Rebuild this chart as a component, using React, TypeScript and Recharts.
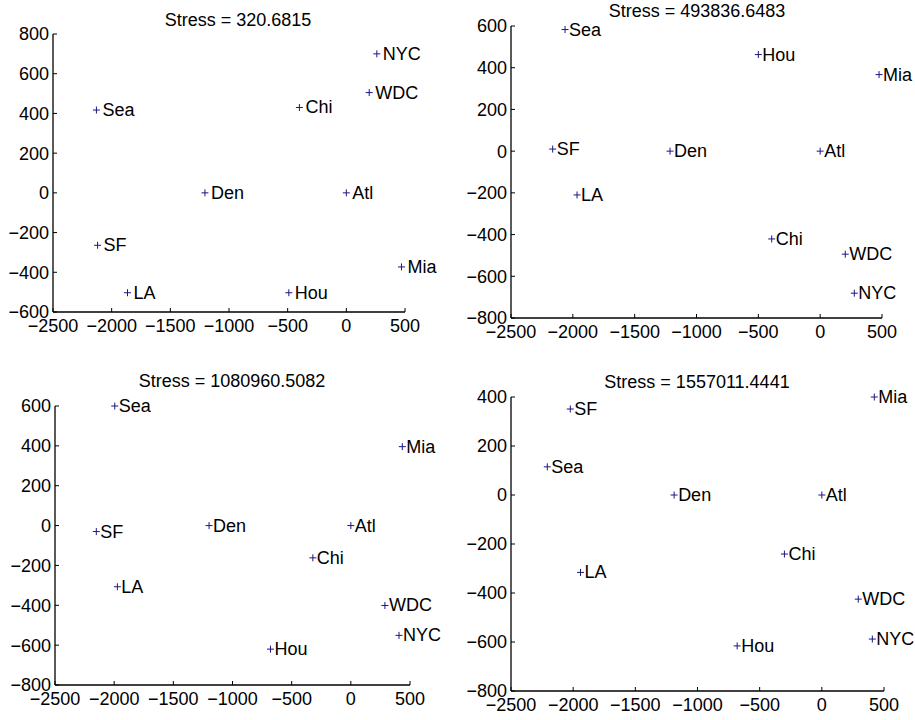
import React from 'react';
import { ScatterChart, Scatter, XAxis, YAxis } from 'recharts';

const cities = ['NYC', 'WDC', 'Chi', 'Sea', 'Den', 'Atl', 'SF', 'Mia', 'LA', 'Hou'];

// MDS coordinates, in the order of `cities`
const xs1 = [260, 195, -400, -2130, -1205, 0, -2120, 470, -1865, -490];
const ys1 = [700, 505, 430, 417, 0, 0, -264, -373, -503, -503];

const xs2 = [276, 203, -392, -2063, -1214, 0, -2163, 476, -1966, -500];
const ys2 = [-681, -494, -421, 583, 0, 0, 10, 367, -210, 463];

const xs3 = [407, 288, -321, -1995, -1198, 0, -2151, 435, -1973, -679];
const ys3 = [-551, -401, -162, 600, 0, 0, -30, 396, -307, -620];

const xs4 = [406, 293, -301, -2208, -1188, 0, -2023, 422, -1941, -681];
const ys4 = [-588, -425, -241, 115, 0, 0, 351, 400, -316, -616];

const titles = [
  'Stress = 320.6815',
  'Stress = 493836.6483',
  'Stress = 1080960.5082',
  'Stress = 1557011.4441',
];

const xTicks = [-2500, -2000, -1500, -1000, -500, 0, 500];
const yTicks1 = [-600, -400, -200, 0, 200, 400, 600, 800];
const yTicks2 = [-800, -600, -400, -200, 0, 200, 400, 600];
const yTicks4 = [-800, -600, -400, -200, 0, 200, 400];

const FONT = '"Liberation Sans", Arial, Helvetica, sans-serif';
const MARKER = '#1c1780';
const fmt = (v: number) => String(v).replace('-', '\u2212');

const makeMark = (dx: number) => (props: any) => {
  const { cx, cy, payload } = props;
  if (cx == null || cy == null) return null;
  return (
    <g>
      <line x1={cx - 3.5} x2={cx + 3.5} y1={cy} y2={cy} stroke={MARKER} strokeWidth={1} />
      <line x1={cx} x2={cx} y1={cy - 3.5} y2={cy + 3.5} stroke={MARKER} strokeWidth={1} />
      <text x={cx + dx} y={cy} dominantBaseline="central" fontSize={18} fontFamily={FONT} fill="#000">
        {payload.name}
      </text>
    </g>
  );
};

type PanelProps = {
  xs: number[];
  ys: number[];
  yTicks: number[];
  title: string;
  // plot rectangle in page pixels
  px: number;
  py: number;
  pw: number;
  ph: number;
  titleX: number;
  titleY: number;
  labelDx: number;
};

const ML = 60;
const MT = 30;
const MR = 50;
const MB = 34;

const Panel = ({ xs, ys, yTicks, title, px, py, pw, ph, titleX, titleY, labelDx }: PanelProps) => {
  const data = cities.map((name, i) => ({ name, x: xs[i], y: ys[i] }));
  const tickStyle = { fontSize: 18, fill: '#000', fontFamily: FONT };
  const Mark = makeMark(labelDx);
  return (
    <>
      <div
        style={{
          position: 'absolute',
          left: titleX - 150,
          width: 300,
          top: titleY - 11,
          height: 22,
          lineHeight: '22px',
          textAlign: 'center',
          fontFamily: FONT,
          fontSize: 18,
          color: '#000',
        }}
      >
        {title}
      </div>
      <div style={{ position: 'absolute', left: px - ML, top: py - MT }}>
        <ScatterChart
          width={pw + ML + MR}
          height={ph + MT + MB}
          margin={{ top: MT, right: MR, bottom: 0, left: 0 }}
          style={{ overflow: 'visible' }}
        >
          <XAxis
            type="number"
            dataKey="x"
            domain={[-2500, 500]}
            ticks={xTicks}
            height={MB}
            tickSize={-4}
            tickMargin={11}
            tickFormatter={fmt}
            tick={tickStyle}
            axisLine={{ stroke: '#000', strokeWidth: 1.3 }}
            tickLine={{ stroke: '#000', strokeWidth: 1 }}
          />
          <YAxis
            type="number"
            dataKey="y"
            domain={[yTicks[0], yTicks[yTicks.length - 1]]}
            ticks={yTicks}
            width={ML}
            tickSize={-4}
            tickMargin={8}
            tickFormatter={fmt}
            tick={tickStyle}
            axisLine={{ stroke: '#000', strokeWidth: 1.3 }}
            tickLine={{ stroke: '#000', strokeWidth: 1 }}
          />
          <Scatter data={data} shape={<Mark />} isAnimationActive={false} />
        </ScatterChart>
      </div>
    </>
  );
};

export default function App() {
  return (
    <div
      style={{
        position: 'absolute',
        left: 0,
        top: 0,
        width: 915,
        height: 720,
        background: '#fff',
        overflow: 'hidden',
      }}
    >
      <Panel xs={xs1} ys={ys1} yTicks={yTicks1} title={titles[0]} px={53} py={34} pw={352} ph={278} titleX={238} titleY={20} labelDx={6} />
      <Panel xs={xs2} ys={ys2} yTicks={yTicks2} title={titles[1]} px={511} py={26} pw={371} ph={292} titleX={697} titleY={11} labelDx={4} />
      <Panel xs={xs3} ys={ys3} yTicks={yTicks2} title={titles[2]} px={55} py={406} pw={355} ph={279} titleX={232} titleY={381} labelDx={4} />
      <Panel xs={xs4} ys={ys4} yTicks={yTicks4} title={titles[3]} px={511} py={397} pw={373} ph={294} titleX={697} titleY={382} labelDx={4} />
    </div>
  );
}
